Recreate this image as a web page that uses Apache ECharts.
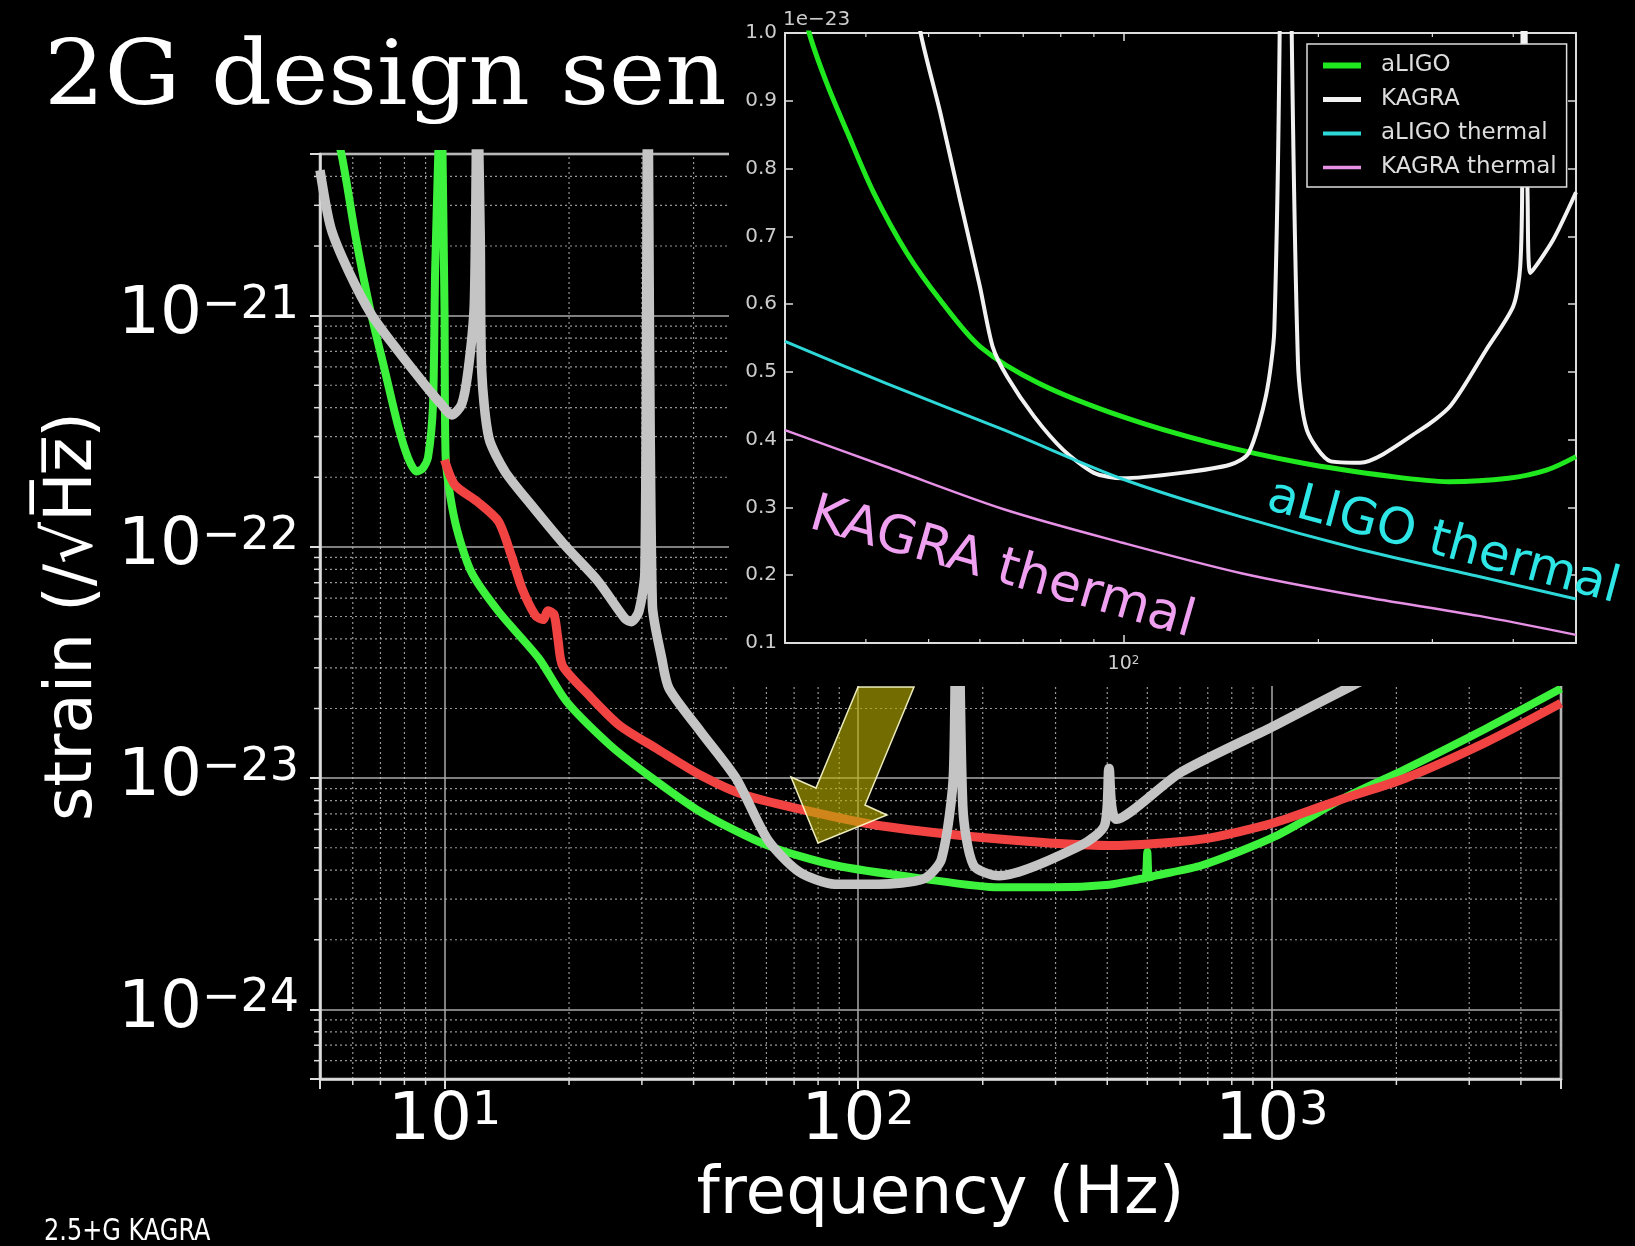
<!DOCTYPE html>
<html><head><meta charset="utf-8">
<script src="https://cdn.jsdelivr.net/npm/echarts@6/dist/echarts.min.js"></script>
<style>html,body{margin:0;padding:0;background:#000;} #chart{width:1635px;height:1246px;}</style>
</head><body><div id="chart"></div>
<script>
const FONT = "'DejaVu Sans', 'Noto Sans', sans-serif";
const UNIT = 1e-24;            // main y axis works in units of 1e-24 strain
const INSET_UNIT_LABEL = '1e\u221223';

// ---------- main panel (strain / sqrt(Hz)) ----------
const aligoFreq   = [5.2, 5.62, 6.10, 6.62, 7.18, 7.74, 8.16, 8.55, 8.85, 9.12, 9.38, 9.49, 9.66, 9.8, 9.89, 10.0, 10.06, 10.6, 11.6, 13.5, 16.9, 19.7, 25, 30.2, 41.6, 60.3, 87.9, 144, 219, 295, 404, 483, 495, 500, 505, 520, 678, 1018, 1494, 2093, 3296, 5000];
const aligoStrain = [8e-21, 5.1e-21, 2.18e-21, 1.05e-21, 5.75e-22, 3.28e-22, 2.43e-22, 2.12e-22, 2.18e-22, 2.43e-22, 4.13e-22, 1.56e-21, 5.1e-21, 2e-20, 5.1e-21, 1.05e-21, 2.46e-22, 1.29e-22, 7.8e-23, 5.26e-23, 3.3e-23, 2.15e-23, 1.4e-23, 1.07e-23, 7.14e-24, 5.12e-24, 4.2e-24, 3.67e-24, 3.37e-24, 3.37e-24, 3.46e-24, 3.67e-24, 3.7e-24, 4.8e-24, 3.72e-24, 3.78e-24, 4.2e-24, 5.6e-24, 8.2e-24, 1.09e-23, 1.64e-23, 2.44e-23];

const kagra25Freq   = [10.0, 10.6, 12.0, 13.5, 14.5, 15.4, 16.6, 17.3, 17.8, 18.4, 18.8, 19.3, 22.3, 26.5, 32.4, 41.6, 53.4, 77.4, 112, 219, 404, 678, 1018, 1494, 2093, 3296, 5000];
const kagra25Strain = [2.38e-22, 1.85e-22, 1.57e-22, 1.29e-22, 9.2e-23, 6.6e-23, 5.04e-23, 4.85e-23, 5.3e-23, 5.1e-23, 4.0e-23, 3.06e-23, 2.29e-23, 1.69e-23, 1.35e-23, 1.03e-23, 8.43e-24, 7.14e-24, 6.24e-24, 5.45e-24, 5.11e-24, 5.45e-24, 6.43e-24, 8.17e-24, 9.96e-24, 1.43e-23, 2.11e-23];

const kagraFreq   = [5.0, 5.31, 5.86, 6.66, 7.74, 8.96, 9.83, 10.4, 11.0, 11.4, 11.8, 12.0, 12.2, 12.3, 12.8, 14.0, 16.2, 19.5, 23.5, 27.3, 28.3, 29.5, 30.5, 31.0, 31.8, 33.5, 34.9, 41.6, 50.7, 60.3, 71.8, 87.9, 112, 144, 159, 170, 173, 179, 190, 219, 345, 394, 404, 421, 603, 1018, 1563, 2500, 5000];
const kagraStrain = [4.25e-21, 2.4e-21, 1.56e-21, 1.01e-21, 7.0e-22, 5.03e-22, 4.13e-22, 3.72e-22, 4.13e-22, 5.75e-22, 1.12e-21, 1e-20, 2.18e-21, 5.75e-22, 2.96e-22, 2.12e-22, 1.52e-22, 1.02e-22, 7.11e-23, 4.9e-23, 4.75e-23, 5.26e-23, 7.8e-23, 1e-20, 5.62e-23, 3.3e-23, 2.44e-23, 1.59e-23, 9.96e-24, 5.45e-24, 3.95e-24, 3.48e-24, 3.48e-24, 3.67e-24, 4.47e-24, 1.06e-23, 3e-22, 7.6e-24, 4.2e-24, 3.78e-24, 5.11e-24, 6.24e-24, 1.1e-23, 6.64e-24, 1.06e-23, 1.69e-23, 2.51e-23, 3.8e-23, 7.5e-23];

// ---------- inset (linear, units of 1e-23) ----------
const insAligoFreq = [30, 32.7, 34.8, 37.5, 41.1, 46.3, 52.1, 60.1, 74.1, 99.6, 137, 188, 258, 318, 393, 450, 500];
const insAligoVal  = [1.15, 1.0, 0.926, 0.852, 0.765, 0.675, 0.606, 0.537, 0.483, 0.434, 0.395, 0.366, 0.346, 0.338, 0.343, 0.355, 0.375];

const insKagraFreq = [42, 46, 48.6, 52.1, 55.9, 60.0, 62.8, 66.2, 72.8, 80.7, 90.0, 99.6, 123, 146, 156, 166, 171, 175, 178, 181, 186, 192, 209, 232, 287, 320, 363, 400, 410, 413, 415, 418, 421, 425, 461, 500];
const insKagraVal  = [1.6, 1.15, 1.0, 0.883, 0.754, 0.626, 0.537, 0.492, 0.434, 0.385, 0.351, 0.343, 0.351, 0.363, 0.38, 0.465, 0.563, 1.2, 3, 1.2, 0.514, 0.414, 0.368, 0.366, 0.414, 0.45, 0.532, 0.597, 0.655, 0.8, 3, 1.0, 0.754, 0.646, 0.695, 0.765];

const insAligoThFreq = [30, 43.0, 65.5, 99.6, 152, 232, 354, 500];
const insAligoThVal  = [0.545, 0.483, 0.414, 0.342, 0.286, 0.238, 0.198, 0.165];

const insKagraThFreq = [30, 43.0, 65.5, 99.6, 152, 232, 354, 500];
const insKagraThVal  = [0.414, 0.36, 0.297, 0.248, 0.203, 0.169, 0.14, 0.112];

const legendNames = ['aLIGO', 'KAGRA', 'aLIGO thermal', 'KAGRA thermal'];
const insetColors = ['#1fe81f', '#f2f2f2', '#2ed8d8', '#e690e6'];
const insetWidths = [5, 4, 3, 2.5];

// axis ranges
const MAIN_X = [5, 5000];
const MAIN_Y = [5e-25, 5e-21];
const INS_X = [30, 500];
const INS_Y = [0.1, 1.0];

// minor tick positions (2..9 x decade), used for matplotlib-like log grid
const multipliers = [2, 3, 4, 5, 6, 7, 8, 9];
function minorTicks(decades, lo, hi) {
  const out = [];
  decades.forEach(d => multipliers.forEach(m => { const v = m * d; if (v > lo * 1.0001 && v < hi * 0.9999) out.push(v); }));
  return out;
}
const mainMinorX = minorTicks([1, 10, 100, 1000], MAIN_X[0], MAIN_X[1]);
const mainMinorY = minorTicks([1e-25, 1e-24, 1e-23, 1e-22, 1e-21], MAIN_Y[0], MAIN_Y[1]);
const insMinorX = minorTicks([10, 100], INS_X[0], INS_X[1]);

const pairs = (fs, vs, k) => fs.map((f, i) => [f, vs[i] / k]);
const isDecade = v => Math.abs(Math.log10(v) - Math.round(Math.log10(v))) < 1e-6;

const chart = echarts.init(document.getElementById('chart'), null, {renderer: 'canvas'});

const bigRich = {
  b: {fontSize: 66, color: '#fff', fontFamily: FONT},
  s: {fontSize: 46, color: '#fff', fontFamily: FONT, verticalAlign: 'top'}
};
const gridDot = {stroke: 'rgba(200,200,200,0.75)', lineWidth: 1.2, lineDash: [2, 3]};

function insetLine(i, freq, vals, smooth, z) {
  return {type: 'line', name: legendNames[i], xAxisIndex: 1, yAxisIndex: 1, z: z, symbol: 'none', silent: true, clip: true,
    smooth: smooth, color: insetColors[i], itemStyle: {color: insetColors[i]},
    data: pairs(freq, vals, 1), lineStyle: {color: insetColors[i], width: insetWidths[i], join: 'round'}};
}

const option = {
  backgroundColor: '#000',
  animation: false,
  grid: [
    {left: 320, top: 154, width: 1241, height: 925, show: true, borderColor: '#ddd', borderWidth: 2.5, backgroundColor: 'transparent', containLabel: false, outerBoundsMode: 'none'},
    {left: 785, top: 33, width: 791, height: 610, show: false, containLabel: false, outerBoundsMode: 'none'}
  ],
  xAxis: [
    {gridIndex: 0, type: 'log', logBase: 10, min: MAIN_X[0], max: MAIN_X[1],
     axisLine: {show: true, onZero: false, lineStyle: {color: '#ddd', width: 2.5}},
     axisTick: {show: true, inside: false, length: 10, lineStyle: {color: '#ddd', width: 2}},
     splitLine: {show: true, lineStyle: {color: '#aaa', width: 1.5}},
     minorTick: {show: false}, minorSplitLine: {show: false},
     axisLabel: {margin: 10, formatter: v => isDecade(v) ? '{b|10}{s|' + Math.round(Math.log10(v)) + '}' : '', rich: bigRich},
     name: 'frequency (Hz)', nameLocation: 'middle', nameGap: 84,
     nameTextStyle: {color: '#fff', fontSize: 66, fontFamily: FONT}},
    {gridIndex: 1, type: 'log', logBase: 10, min: INS_X[0], max: INS_X[1], z: 20,
     axisLine: {show: true, onZero: false, lineStyle: {color: '#ddd', width: 2}},
     axisTick: {show: true, inside: true, length: 8, lineStyle: {color: '#ddd', width: 1.5}},
     splitLine: {show: false},
     axisLabel: {margin: 12, formatter: v => isDecade(v) ? '{b|10}{s|' + Math.round(Math.log10(v)) + '}' : '',
       rich: {b: {fontSize: 19, color: '#ccc', fontFamily: FONT}, s: {fontSize: 12, color: '#ccc', fontFamily: FONT, verticalAlign: 'top'}}}},
    {gridIndex: 1, type: 'log', logBase: 10, min: INS_X[0], max: INS_X[1], position: 'top', z: 20,
     axisLine: {show: true, onZero: false, lineStyle: {color: '#ddd', width: 2}},
     axisTick: {show: true, inside: true, length: 8, lineStyle: {color: '#ddd', width: 1.5}},
     splitLine: {show: false}, axisLabel: {show: false}}
  ],
  yAxis: [
    {gridIndex: 0, type: 'log', logBase: 10, min: MAIN_Y[0] / UNIT, max: MAIN_Y[1] / UNIT,
     axisLine: {show: true, onZero: false, lineStyle: {color: '#ddd', width: 2.5}},
     axisTick: {show: true, inside: false, length: 10, lineStyle: {color: '#ddd', width: 2}},
     splitLine: {show: true, lineStyle: {color: '#aaa', width: 1.5}},
     minorTick: {show: false}, minorSplitLine: {show: false},
     axisLabel: {margin: 21, formatter: v => {
        const e = Math.log10(v * UNIT);
        if (Math.abs(e - Math.round(e)) > 1e-6) return '';
        return '{b|10}{s|\u2212' + (-Math.round(e)) + '}';
     }, rich: bigRich},
     name: 'strain (/\u221AH\u0305z\u0305)', nameLocation: 'middle', nameRotate: 90, nameGap: 213,
     nameTextStyle: {color: '#fff', fontSize: 66, fontFamily: FONT}},
    {gridIndex: 1, type: 'value', min: INS_Y[0], max: INS_Y[1], interval: 0.1, z: 20,
     axisLine: {show: true, onZero: false, lineStyle: {color: '#ddd', width: 2}},
     axisTick: {show: true, inside: true, length: 8, lineStyle: {color: '#ddd', width: 1.5}},
     splitLine: {show: false},
     axisLabel: {margin: 8, color: '#ccc', fontSize: 20, fontFamily: FONT, formatter: v => v.toFixed(1)}},
    {gridIndex: 1, type: 'value', min: INS_Y[0], max: INS_Y[1], interval: 0.1, position: 'right', z: 20,
     axisLine: {show: true, onZero: false, lineStyle: {color: '#ddd', width: 2}},
     axisTick: {show: true, inside: true, length: 8, lineStyle: {color: '#ddd', width: 1.5}},
     splitLine: {show: false}, axisLabel: {show: false}}
  ],
  legend: {
    data: legendNames.map((n, i) => ({name: n, lineStyle: {color: insetColors[i], width: insetWidths[i] + 1}})),
    orient: 'vertical', left: 1307, top: 44,
    padding: [10, 10, 8, 13], itemGap: 11, itemWidth: 38, itemHeight: 20,
    backgroundColor: '#000', borderColor: '#ddd', borderWidth: 1.5, borderRadius: 0,
    itemStyle: {opacity: 0, color: 'rgba(0,0,0,0)', borderWidth: 0},
    textStyle: {color: '#ddd', fontSize: 23, fontFamily: FONT, padding: [0, 0, 0, 15]},
    selectedMode: false, z: 30
  },
  series: [
    // main minor grid (vertical) + minor ticks
    {type: 'custom', name: 'minorX', xAxisIndex: 0, yAxisIndex: 0, z: 1, silent: true, clip: false,
     data: mainMinorX.map(f => [f, MAIN_Y[0] / UNIT]),
     renderItem: (params, api) => {
       const f = api.value(0);
       const b = api.coord([f, MAIN_Y[0] / UNIT]);
       const t = api.coord([f, MAIN_Y[1] / UNIT]);
       return {type: 'group', children: [
         {type: 'line', shape: {x1: b[0], y1: b[1], x2: t[0], y2: t[1]}, style: gridDot},
         {type: 'line', shape: {x1: b[0], y1: b[1], x2: b[0], y2: b[1] + 6}, style: {stroke: '#ddd', lineWidth: 1.5}}
       ]};
     }},
    // main minor grid (horizontal) + minor ticks
    {type: 'custom', name: 'minorY', xAxisIndex: 0, yAxisIndex: 0, z: 1, silent: true, clip: false,
     data: mainMinorY.map(v => [MAIN_X[0], v / UNIT]),
     renderItem: (params, api) => {
       const v = api.value(1);
       const l = api.coord([MAIN_X[0], v]);
       const r = api.coord([MAIN_X[1], v]);
       return {type: 'group', children: [
         {type: 'line', shape: {x1: l[0], y1: l[1], x2: r[0], y2: r[1]}, style: gridDot},
         {type: 'line', shape: {x1: l[0] - 6, y1: l[1], x2: l[0], y2: l[1]}, style: {stroke: '#ddd', lineWidth: 1.5}}
       ]};
     }},
    {type: 'line', name: 'aLIGO design', xAxisIndex: 0, yAxisIndex: 0, z: 2, symbol: 'none', silent: true, clip: true, smooth: 0.25,
     data: pairs(aligoFreq, aligoStrain, UNIT), lineStyle: {color: '#3cf23c', width: 8, join: 'round'}},
    {type: 'line', name: '2.5G KAGRA', xAxisIndex: 0, yAxisIndex: 0, z: 3, symbol: 'none', silent: true, clip: true, smooth: 0.25,
     data: pairs(kagra25Freq, kagra25Strain, UNIT), lineStyle: {color: '#f24343', width: 9, join: 'round'}},
    {type: 'line', name: 'KAGRA design', xAxisIndex: 0, yAxisIndex: 0, z: 4, symbol: 'none', silent: true, clip: true, smooth: 0.25,
     data: pairs(kagraFreq, kagraStrain, UNIT), lineStyle: {color: '#c4c4c4', width: 9.5, join: 'round'}},
    // inset minor ticks (bottom & top, inward)
    {type: 'custom', name: 'insMinor', xAxisIndex: 1, yAxisIndex: 1, z: 20, silent: true, clip: false,
     data: insMinorX.map(f => [f, INS_Y[0]]),
     renderItem: (params, api) => {
       const f = api.value(0);
       const b = api.coord([f, INS_Y[0]]);
       const t = api.coord([f, INS_Y[1]]);
       return {type: 'group', children: [
         {type: 'line', shape: {x1: b[0], y1: b[1], x2: b[0], y2: b[1] - 4}, style: {stroke: '#ddd', lineWidth: 1.2}},
         {type: 'line', shape: {x1: t[0], y1: t[1], x2: t[0], y2: t[1] + 4}, style: {stroke: '#ddd', lineWidth: 1.2}}
       ]};
     }},
    insetLine(0, insAligoFreq, insAligoVal, 0.3, 21),
    insetLine(1, insKagraFreq, insKagraVal, 0.25, 22),
    insetLine(2, insAligoThFreq, insAligoThVal, 0.3, 23),
    insetLine(3, insKagraThFreq, insKagraThVal, 0.3, 24)
  ],
  graphic: {elements: [
    {type: 'rect', shape: {x: 729, y: 0, width: 906, height: 686}, style: {fill: '#000'}, z: 10, silent: true},
    {type: 'polygon', z: 6, silent: true,
     shape: {points: [[858, 687], [914, 687], [865, 805], [887, 815], [818, 843], [791, 777], [816, 788]]},
     style: {fill: 'rgba(185,175,0,0.62)', stroke: 'rgba(255,255,210,0.9)', lineWidth: 1.5}},
    {type: 'text', x: 44, y: 81, z: 50, silent: true, scaleX: 1.07,
     style: {text: '2G design sen', fill: '#fff', fontSize: 89, fontFamily: "'DejaVu Serif', serif", align: 'left', verticalAlign: 'middle'}},
    {type: 'text', x: 783, y: 20, z: 50, silent: true,
     style: {text: INSET_UNIT_LABEL, fill: '#ccc', fontSize: 20, fontFamily: FONT, align: 'left', verticalAlign: 'middle'}},
    {type: 'text', x: 1443, y: 543, z: 50, silent: true, rotation: -15 * Math.PI / 180,
     style: {text: 'aLIGO thermal', fill: '#2ee6e6', fontSize: 50, fontFamily: FONT, align: 'center', verticalAlign: 'middle'}},
    {type: 'text', x: 1002, y: 569, z: 50, silent: true, rotation: -16 * Math.PI / 180,
     style: {text: 'KAGRA thermal', fill: '#f0a0f0', fontSize: 52, fontFamily: FONT, align: 'center', verticalAlign: 'middle'}},
    {type: 'text', x: 44, y: 1232, z: 50, silent: true, scaleX: 0.8,
     style: {text: '2.5+G KAGRA', fill: '#fff', fontSize: 30, fontFamily: FONT, align: 'left', verticalAlign: 'middle'}}
  ]}
};
chart.setOption(option);
</script></body></html>
